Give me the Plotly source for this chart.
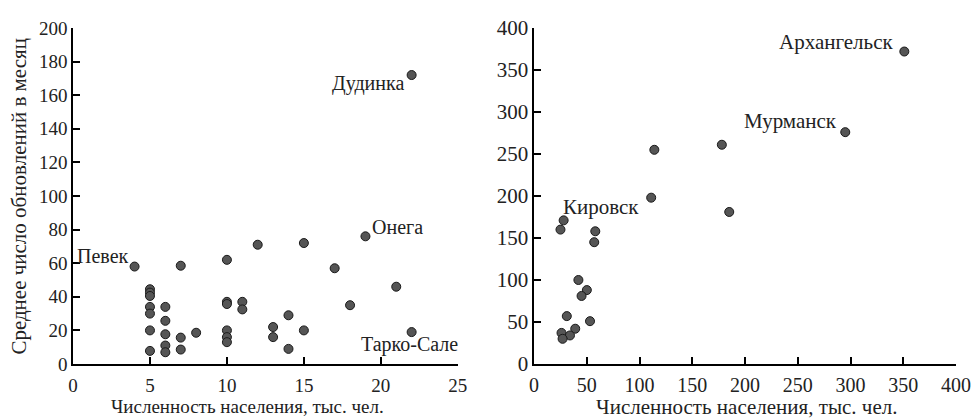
import plotly.graph_objects as go

# Left panel: small towns
left_pop = [22, 19, 4, 7, 10, 12, 15, 17, 21, 18, 22, 14, 14, 13, 13, 15, 11, 11, 10, 10, 10, 10, 10,
            8, 7, 7, 6, 6, 6, 6, 6, 5, 5, 5, 5, 5, 5, 5]
left_upd = [172, 76, 58, 58.5, 62, 71, 72, 57, 46, 35, 19, 29, 9, 22, 16, 20, 37, 32.5, 37, 35.7, 20, 16, 13,
            18.6, 15.7, 8.6, 34, 25.7, 17.7, 11, 7, 44.5, 42.5, 40.5, 34, 30, 20, 7.8]
left_labels = {"Дудинка": (22, 172), "Онега": (19, 76), "Певек": (4, 58), "Тарко-Сале": (22, 19)}

# Right panel: large towns
right_pop = [351, 295, 178, 114, 111, 185, 28, 25, 58, 57, 42, 50, 45, 31, 53, 39, 26, 34, 27]
right_upd = [372, 276, 261, 255, 198, 181, 171, 160, 158, 145, 100, 88, 81, 57, 51, 42, 37, 34, 30]
right_labels = {"Архангельск": (351, 372), "Мурманск": (295, 276), "Кировск": (28, 171)}

x_title = "Численность населения, тыс. чел."
y_title = "Среднее число обновлений в месяц"

FONT = "Liberation Serif"
TXT = "#222222"
marker = dict(size=9, color="#555555", line=dict(color="#1a1a1a", width=1))

fig = go.Figure()
fig.add_trace(go.Scatter(x=left_pop, y=left_upd, mode="markers", marker=marker, xaxis="x", yaxis="y",
                         showlegend=False, hoverinfo="x+y"))
fig.add_trace(go.Scatter(x=right_pop, y=right_upd, mode="markers", marker=marker, xaxis="x2", yaxis="y2",
                         showlegend=False, hoverinfo="x+y"))


def axis(size, **kw):
    d = dict(showgrid=False, zeroline=False, showline=True, linecolor="black", linewidth=1.5,
             ticks="inside", tickcolor="black", tickwidth=1.5, ticklen=7, ticklabeloverflow="allow",
             tickfont=dict(family=FONT, size=size, color=TXT))
    d.update(kw)
    return d


# the page body adds an 8px margin, so the figure is sized to the visible area
fig.update_layout(
    width=972, height=410,
    margin=dict(l=65.3, r=19.3, t=8.7, b=54),
    plot_bgcolor="white", paper_bgcolor="white",
    font=dict(family=FONT, size=19, color=TXT),
    xaxis=axis(19, domain=[0, 0.4358], range=[0, 25], tickvals=[0, 5, 10, 15, 20, 25], anchor="y",
               ticklabelstandoff=3),
    yaxis=axis(19, domain=[0, 1], range=[0, 200], dtick=20, anchor="x"),
    xaxis2=axis(20, domain=[0.5222, 1], range=[0, 400], dtick=50, anchor="y2", ticklabelstandoff=2),
    yaxis2=axis(21, domain=[0, 1], range=[0, 400], dtick=50, anchor="x2"),
)

ann = []
pos_left = {
    "Дудинка": dict(xanchor="right", yanchor="middle", xshift=-6, yshift=-8),
    "Онега": dict(xanchor="left", yanchor="middle", xshift=5, yshift=9),
    "Певек": dict(xanchor="right", yanchor="middle", xshift=-4, yshift=11),
    "Тарко-Сале": dict(xanchor="center", yanchor="middle", xshift=-2, yshift=-12),
}
for name, (px, py) in left_labels.items():
    ann.append(dict(x=px, y=py, xref="x", yref="y", text=name, showarrow=False,
                    font=dict(family=FONT, size=20, color=TXT), **pos_left[name]))
pos_right = {
    "Архангельск": dict(xanchor="right", yanchor="middle", xshift=-9, yshift=10),
    "Мурманск": dict(xanchor="right", yanchor="middle", xshift=-6, yshift=11),
    "Кировск": dict(xanchor="left", yanchor="middle", xshift=-3, yshift=13),
}
for name, (px, py) in right_labels.items():
    ann.append(dict(x=px, y=py, xref="x2", yref="y2", text=name, showarrow=False,
                    font=dict(family=FONT, size=21, color=TXT), **pos_right[name]))

# axis titles
ann.append(dict(x=0.198, y=-0.127, xref="paper", yref="paper", xanchor="center", yanchor="middle",
                text=x_title, showarrow=False, font=dict(family=FONT, size=19, color=TXT)))
ann.append(dict(x=0.7626, y=-0.127, xref="paper", yref="paper", xanchor="center", yanchor="middle",
                text=x_title, showarrow=False, font=dict(family=FONT, size=21, color=TXT)))
ann.append(dict(x=-0.0612, y=0.501, xref="paper", yref="paper", xanchor="center", yanchor="middle",
                text=y_title, textangle=-90, showarrow=False, font=dict(family=FONT, size=21, color=TXT)))
fig.update_layout(annotations=ann)

fig.write_html("out.html")
